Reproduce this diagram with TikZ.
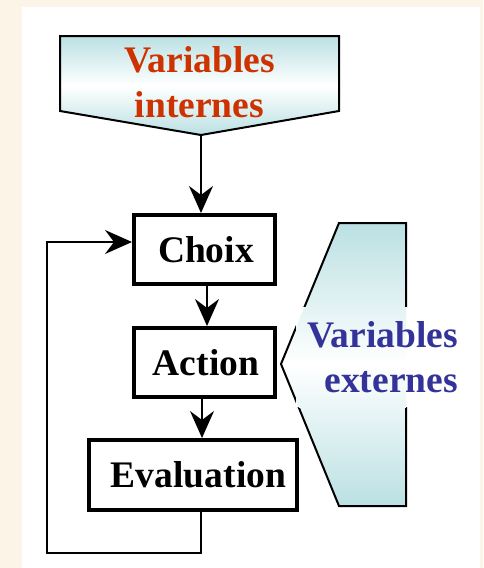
\documentclass[tikz,border=0pt]{standalone}
\usepackage{fontspec}
\setmainfont{Liberation Serif}
\usetikzlibrary{arrows.meta}
\definecolor{bgbeige}{RGB}{253,244,232}
\definecolor{teal1}{RGB}{187,224,227}
\definecolor{redtxt}{RGB}{204,51,0}
\definecolor{bluetxt}{RGB}{51,51,153}
\tikzset{
  bigtxt/.style={font=\fontsize{37.5}{45}\selectfont\bfseries, inner sep=0pt},
  box/.style={draw=black, line width=4pt, fill=white, minimum width=141pt, minimum height=69pt, inner sep=0pt, bigtxt},
  conn/.style={draw=black, line width=2pt},
  arr/.style={conn, -{Stealth[length=27pt,width=24pt,inset=9pt]}},
  vshade/.style={top color=teal1, bottom color=teal1, middle color=white},
  outl/.style={draw=black, line width=2pt, line join=miter}
}
\begin{document}
\begin{tikzpicture}[x=1pt,y=-1pt]
\useasboundingbox (0,0) rectangle (483,568);
\fill[bgbeige] (0,0) rectangle (483,568);
\fill[white] (22,7) rectangle (480,568);
% internal variables shape
\shade[vshade] (60,36) -- (339,36) -- (339,111) -- (201,135) -- (60,111) -- cycle;
\draw[outl] (60,36) -- (339,36) -- (339,111) -- (201,135) -- (60,111) -- cycle;
\coordinate (vitip) at (201,135);
\node[bigtxt, text=redtxt, align=center] (vi) at (199.5,81.8) {Variables\\internes};
% external variables shape
\shade[vshade] (339,223) -- (406,223) -- (406,506) -- (339,506) -- (281,364) -- cycle;
\draw[outl] (339,223) -- (406,223) -- (406,506) -- (339,506) -- (281,364) -- cycle;
\fill[white] (296,307) rectangle (462,407);
\begin{scope}
\clip (296,307) rectangle (462,407);
\shade[vshade] (339,223) -- (406,223) -- (406,506) -- (339,506) -- (281,364) -- cycle;
\end{scope}
\node[bigtxt, text=bluetxt, align=right, anchor=east] (ve) at (458,356.8) {Variables\\externes};
% boxes
\node[box] (choix) at (204.5,249.5) {\hspace*{3pt}Choix};
\node[box] (action) at (204.5,362.5) {\hspace*{3pt}Action};
\node[box, minimum width=208pt, minimum height=70pt] (ev) at (193,475) {\hspace*{11pt}Evaluation};
% connectors
\draw[arr] (vitip) -- (vitip |- choix.north);
\draw[arr] ([xshift=2.5pt]choix.south) -- ([xshift=2.5pt]action.north);
\draw[arr] ([xshift=-2.5pt]action.south) -- ([xshift=-2.5pt]action.south |- ev.north);
\coordinate (lb) at (47,553);
\draw[arr] ([xshift=8pt]ev.south) |- (lb) |- ([yshift=7.5pt]choix.west);
\end{tikzpicture}
\end{document}
